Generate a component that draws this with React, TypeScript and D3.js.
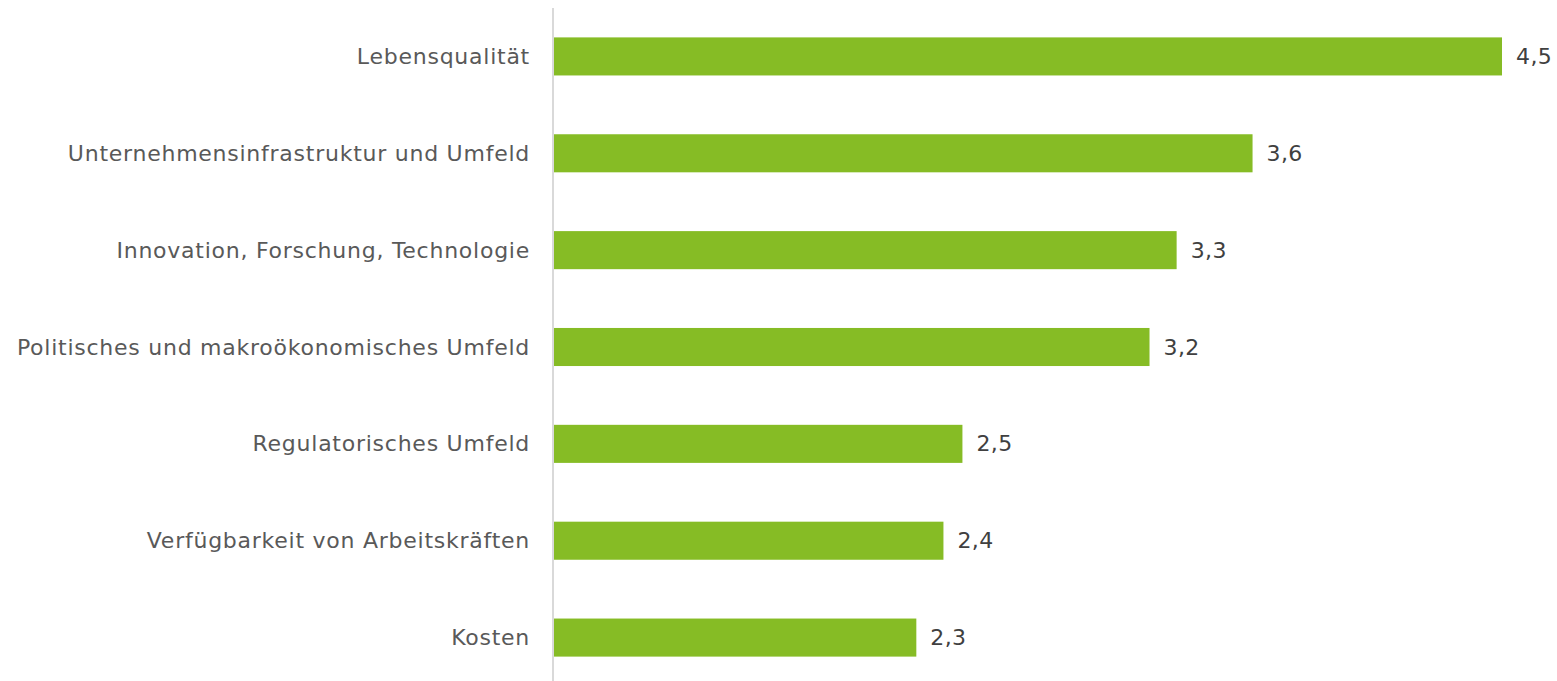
import React from "react";
import * as d3 from "d3";

const categories = [
  "Lebensqualität",
  "Unternehmensinfrastruktur und Umfeld",
  "Innovation, Forschung, Technologie",
  "Politisches und makroökonomisches Umfeld",
  "Regulatorisches Umfeld",
  "Verfügbarkeit von Arbeitskräften",
  "Kosten",
];
const values = [4.5, 3.58, 3.3, 3.2, 2.51, 2.44, 2.34];

const W = 1557;
const H = 681;
const FONT = "'DejaVu Sans', Verdana, sans-serif";

export default function App() {
  const x = d3.scaleLinear().domain([1, 4.5]).range([553, 1502]);
  const y = d3
    .scaleBand<string>()
    .domain(categories)
    .range([8, 686])
    .paddingInner(0.607)
    .paddingOuter(0.3035);
  const fmt = (v: number) => v.toFixed(1).replace(".", ",");

  return (
    <svg
      width={W}
      height={H}
      style={{ position: "absolute", left: 0, top: 0, display: "block", background: "#fff" }}
    >
      {categories.map((c, i) => {
        const yy = y(c)!;
        const bw = y.bandwidth();
        const cy = yy + bw / 2;
        return (
          <g key={c}>
            <rect x={x(1)} y={yy} width={x(values[i]) - x(1)} height={bw} fill="#86BC25" />
            <text
              x={530}
              y={cy}
              textAnchor="end"
              dominantBaseline="central"
              fontFamily={FONT}
              fontSize={22}
              letterSpacing={0.75}
              fill="#595959"
            >
              {c}
            </text>
            <text
              x={x(values[i]) + 14}
              y={cy}
              dominantBaseline="central"
              fontFamily={FONT}
              fontSize={22}
              letterSpacing={0.4}
              fill="#404040"
            >
              {fmt(values[i])}
            </text>
          </g>
        );
      })}
      <line x1={553} x2={553} y1={8} y2={H} stroke="#d9d9d9" strokeWidth={2} />
    </svg>
  );
}
